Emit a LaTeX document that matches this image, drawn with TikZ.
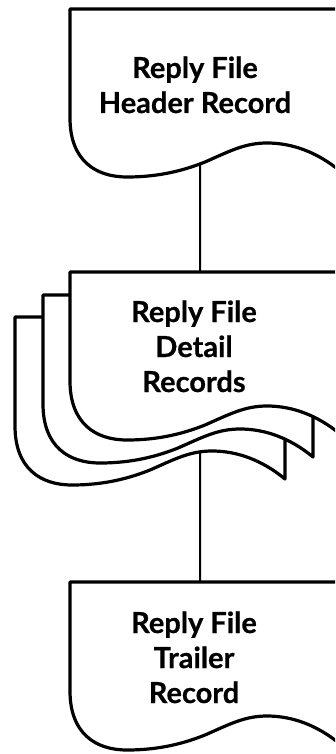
\documentclass[tikz,border=0pt]{standalone}
\usepackage{fontspec}
\setmainfont{Lato}[BoldFeatures={FakeBold=0.6}]
\usetikzlibrary{intersections}

\tikzset{
  docline/.style={line width=3.2pt, line join=round, fill=white},
  doctext/.style={align=center, anchor=base, font=\fontsize{29}{35}\selectfont\bfseries},
  link/.style={line width=2pt}
}

% one document sheet: #1 = top left corner, #2 = name of its wavy edge
\newcommand\docsheet[2]{%
  \begin{scope}[shift={#1}]
    \filldraw[docline] (0,0) -- (0,109)
      .. controls (0,151) and (25,168) .. (57,168)
      .. controls (90,168) and (115,161) .. (135,153)
      .. controls (160,142) and (175,134) .. (197,134)
      .. controls (222,134) and (247,143) .. (270,162)
      -- (270,0) -- cycle;
    \path[name path global=#2] (0,109)
      .. controls (0,151) and (25,168) .. (57,168)
      .. controls (90,168) and (115,161) .. (135,153)
      .. controls (160,142) and (175,134) .. (197,134)
      .. controls (222,134) and (247,143) .. (270,162);
  \end{scope}}

\begin{document}
\begin{tikzpicture}[x=1pt, y=-1pt]
        \useasboundingbox (0,0) rectangle (335,754);
        \clip (0,0) rectangle (335,754);

        % Header record
        \docsheet{(70,9)}{hdrwave}
        \node[doctext] (hdr) at (195,113) {Reply File\\Header Record};

        % Detail records, back sheets first
        \docsheet{(15,317)}{detwave}
        \docsheet{(43,295)}{midwave}
        \docsheet{(70,272)}{frontwave}
        \node[doctext] (det) at (194,392) {Reply File\\Detail\\Records};

        % Trailer record
        \docsheet{(70,582)}{trlwave}
        \node[doctext] (trl) at (194,703) {Reply File\\Trailer\\Record};

        % Connector ends
        \path[name path=axis] (200,0) -- (200,754);
        \path[name intersections={of=hdrwave and axis, by=hdrout}];
        \path[name intersections={of=detwave and axis, by=detout}];
        \coordinate (detin) at (200,272);
        \coordinate (trlin) at (200,582);

        % Connectors
        \draw[link] (hdrout) -- (detin);
        \draw[link] (detout) -- (trlin);
    \end{tikzpicture}
\end{document}
